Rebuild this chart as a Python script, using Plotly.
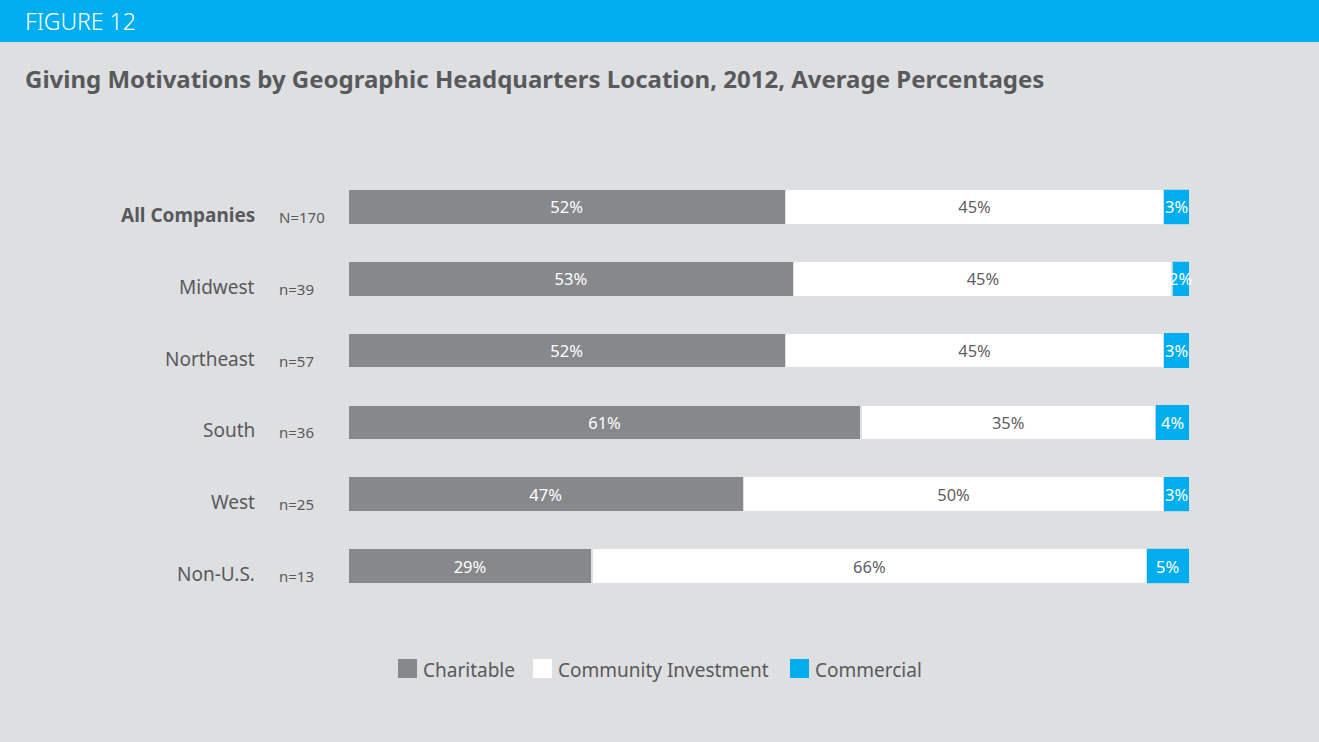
import plotly.graph_objects as go

# Regions (top to bottom) with sample sizes
regions = ["All Companies", "Midwest", "Northeast", "South", "West", "Non-U.S."]
sample_sizes = ["N=170", "n=39", "n=57", "n=36", "n=25", "n=13"]

# Average share of giving by motivation (%)
charitable = [52, 53, 52, 61, 47, 29]
community = [45, 45, 45, 35, 50, 66]
commercial = [3, 2, 3, 4, 3, 5]

series_names = ["Charitable", "Community Investment", "Commercial"]
series_values = [charitable, community, commercial]
series_colors = ["#87888c", "#ffffff", "#00aeef"]
label_colors = ["#ffffff", "#5f6062", "#ffffff"]
edge_widths = [1.5, 1.5, 0.8]

BG = "#dedfe1"
TEXT = "#58595b"
FONT = "Noto Sans"

W, H = 1319, 742
ML, MR, MT, MB = 348, 130, 171, 140
PW = W - ML - MR
PH = H - MT - MB


def px_x(p):
    return (p - ML) / PW


def px_y(p):
    return (H - MB - p) / PH


fig = go.Figure()
for i, (name, vals, col, tcol, ew) in enumerate(zip(series_names, series_values, series_colors,
                                                    label_colors, edge_widths)):
    # the narrow commercial segments get their labels as annotations below
    narrow = i == 2
    fig.add_trace(go.Bar(
        y=regions, x=vals, name=name, orientation="h",
        marker=dict(color=col, line=dict(color=BG, width=ew)),
        text=None if narrow else [f"{v}%" for v in vals],
        textposition="none" if narrow else "inside",
        insidetextanchor="middle", textangle=0,
        textfont=dict(family=FONT, size=16.5, color=tcol),
        showlegend=False, hoverinfo="x+name",
    ))

shapes = []
annotations = []

# labels centred on the commercial segments
for r, a, b, c in zip(regions, charitable, community, commercial):
    annotations.append(dict(xref="x", yref="y", x=a + b + c / 2, y=r, text=f"{c}%",
                            showarrow=False, xanchor="center", yanchor="middle",
                            font=dict(family=FONT, size=16.5, color="#ffffff")))

# header band
shapes.append(dict(type="rect", xref="paper", yref="paper",
                   x0=px_x(0), x1=px_x(W), y0=px_y(42), y1=px_y(0),
                   fillcolor="#00aeef", line=dict(width=0), layer="below"))
annotations.append(dict(xref="paper", yref="paper", x=px_x(23), y=px_y(21),
                        text="FIGURE 12", showarrow=False, xanchor="left", yanchor="middle",
                        font=dict(family=FONT, size=23, color="#ffffff", weight=300)))
annotations.append(dict(xref="paper", yref="paper", x=px_x(23), y=px_y(78),
                        text="<b>Giving Motivations by Geographic Headquarters Location, 2012, Average Percentages</b>",
                        showarrow=False, xanchor="left", yanchor="middle",
                        font=dict(family=FONT, size=24, color=TEXT)))

# category and sample-size labels
for i, (r, n) in enumerate(zip(regions, sample_sizes)):
    label = f"<b>{r}</b>" if i == 0 else r
    annotations.append(dict(xref="paper", yref="y", x=px_x(257), y=r, text=label,
                            showarrow=False, xanchor="right", yanchor="middle", yshift=-8,
                            font=dict(family=FONT, size=19, color=TEXT)))
    annotations.append(dict(xref="paper", yref="y", x=px_x(277), y=r, text=n,
                            showarrow=False, xanchor="left", yanchor="middle", yshift=-10,
                            font=dict(family=FONT, size=15, color=TEXT)))

# legend
legend_items = [(398, "Charitable"), (533, "Community Investment"), (790, "Commercial")]
for (x0, name), col in zip(legend_items, series_colors):
    shapes.append(dict(type="rect", xref="paper", yref="paper",
                       x0=px_x(x0), x1=px_x(x0 + 19), y0=px_y(678), y1=px_y(659),
                       fillcolor=col, line=dict(width=0)))
    annotations.append(dict(xref="paper", yref="paper", x=px_x(x0 + 23), y=px_y(670),
                            text=name, showarrow=False, xanchor="left", yanchor="middle",
                            font=dict(family=FONT, size=19, color=TEXT)))

fig.update_layout(
    width=W, height=H, barmode="stack", bargap=0.51,
    paper_bgcolor=BG, plot_bgcolor=BG,
    margin=dict(l=ML, r=MR, t=MT, b=MB, pad=0),
    xaxis=dict(range=[0, 100], visible=False, fixedrange=True),
    yaxis=dict(autorange="reversed", showticklabels=False, showgrid=False,
               zeroline=False, showline=False, ticks=""),
    shapes=shapes, annotations=annotations,
    font=dict(family=FONT, color=TEXT),
)

fig.write_html("out.html")
